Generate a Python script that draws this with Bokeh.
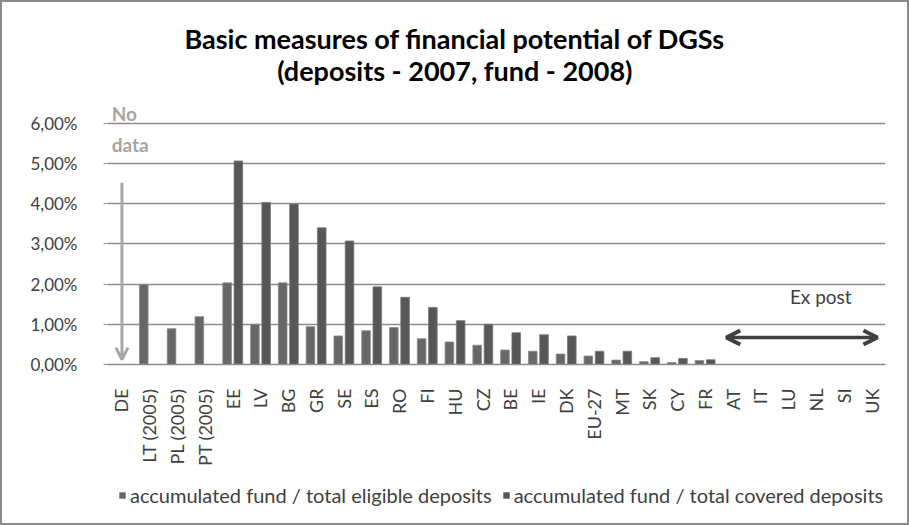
import math
from bokeh.plotting import figure
from bokeh.layouts import column
from bokeh.models import (ColumnDataSource, FixedTicker, Legend, LegendItem,
                          Arrow, OpenHead, Range1d)
from bokeh.core.properties import value
from bokeh.transform import dodge
from bokeh.embed import file_html
from bokeh.resources import INLINE

NAN = float("nan")

categories = ["DE", "LT (2005)", "PL (2005)", "PT (2005)", "EE", "LV", "BG", "GR", "SE", "ES",
              "RO", "FI", "HU", "CZ", "BE", "IE", "DK", "EU-27", "MT", "SK", "CY", "FR",
              "AT", "IT", "LU", "NL", "SI", "UK"]
# accumulated fund / total eligible deposits (%)
eligible = [NAN, 1.99, 0.89, 1.19, 2.03, 1.00, 2.03, 0.94, 0.71, 0.84,
            0.92, 0.64, 0.56, 0.48, 0.36, 0.33, 0.26, 0.21, 0.11, 0.07, 0.05, 0.10,
            NAN, NAN, NAN, NAN, NAN, NAN]
# accumulated fund / total covered deposits (%)
covered = [NAN, NAN, NAN, NAN, 5.06, 4.03, 3.99, 3.40, 3.07, 1.93,
           1.67, 1.42, 1.09, 1.00, 0.79, 0.74, 0.71, 0.33, 0.33, 0.17, 0.15, 0.12,
           NAN, NAN, NAN, NAN, NAN, NAN]
y_ticks = [0, 1, 2, 3, 4, 5, 6]
y_tick_labels = ["0,00%", "1,00%", "2,00%", "3,00%", "4,00%", "5,00%", "6,00%"]
series_names = ["accumulated fund / total eligible deposits",
                "accumulated fund / total covered deposits"]
title_lines = ["Basic measures of financial potential of DGSs",
               "(deposits - 2007, fund - 2008)"]

FONT = "Lato"
TXT = "#404040"
C1, C2 = "#676767", "#575757"
W = 905
Y_TOP = 8.95          # upper end of the value axis (room for the title)
TITLE_X = 12.5        # horizontal centre of the title (page centre)
TITLE_Y = [8.11, 7.31]

xc = [i + 0.5 for i in range(len(categories))]
src = ColumnDataSource(dict(x=xc, cat=categories, eligible=eligible, covered=covered))

p = figure(width=W, height=466, output_backend="svg", toolbar_location=None,
           x_range=Range1d(0, len(categories)), y_range=Range1d(0, Y_TOP),
           min_border_left=105, min_border_right=22, min_border_top=2, min_border_bottom=101)
p.outline_line_color = None
p.background_fill_color = "white"
p.border_fill_color = "white"
p.styles = {"background-color": "white"}

r1 = p.vbar(x=dodge("x", -0.195), top="eligible", width=0.31, source=src,
            fill_color=C1, line_color="#8a8a8a", line_width=0.8)
r2 = p.vbar(x=dodge("x", 0.21), top="covered", width=0.31, source=src,
            fill_color=C2, line_color="#7a7a7a", line_width=0.8)

# axes
p.xaxis.ticker = FixedTicker(ticks=xc)
p.xaxis.major_label_overrides = {x: c for x, c in zip(xc, categories)}
p.xaxis.major_label_orientation = math.pi / 2
p.xaxis.major_tick_line_color = None
p.xaxis.minor_tick_line_color = None
p.xaxis.axis_line_color = "#8c8c8c"
p.xaxis.axis_line_width = 1.5
p.xaxis.major_label_text_font = FONT
p.xaxis.major_label_text_font_size = "18px"
p.xaxis.major_label_text_color = TXT
p.xaxis.major_label_standoff = 18

p.yaxis.ticker = FixedTicker(ticks=y_ticks)
p.yaxis.major_label_overrides = {t: l for t, l in zip(y_ticks, y_tick_labels)}
p.yaxis.axis_line_color = None
p.yaxis.major_tick_in = 0
p.yaxis.major_tick_out = 4
p.yaxis.major_tick_line_color = "#8c8c8c"
p.yaxis.minor_tick_line_color = None
p.yaxis.major_label_text_font = FONT
p.yaxis.major_label_text_font_size = "17px"
p.yaxis.major_label_text_color = TXT
p.yaxis.major_label_standoff = 26

p.xgrid.grid_line_color = None
p.ygrid.grid_line_color = "#8c8c8c"
p.ygrid.grid_line_width = 1.5

# title (two centred lines)
p.text(x=[TITLE_X, TITLE_X], y=TITLE_Y, text=title_lines,
       text_font=value(FONT), text_font_style="bold", text_font_size="27px",
       text_color="black", text_align="center", text_baseline="middle")

# "No data" annotation on DE
de = categories.index("DE")
p.text(x=[de + 0.15, de + 0.15], y=[6.23, 5.47], text=["No", "data"],
       text_font=value(FONT), text_font_style="bold", text_font_size="19px",
       text_color="#a6a6a6", text_baseline="middle")
p.add_layout(Arrow(x_start=de + 0.52, y_start=4.52, x_end=de + 0.52, y_end=0.12,
                   line_color="#a6a6a6", line_width=3,
                   end=OpenHead(size=12, line_color="#a6a6a6", line_width=3)))

# "Ex post" annotation
at = categories.index("AT")
uk = categories.index("UK")
p.add_layout(Arrow(x_start=at + 0.27, y_start=0.67, x_end=uk + 0.71, y_end=0.67,
                   line_color="#404040", line_width=3.5,
                   start=OpenHead(size=14, line_color="#404040", line_width=4),
                   end=OpenHead(size=14, line_color="#404040", line_width=4)))
p.text(x=[(at + uk + 1) / 2 + 0.67], y=[1.69], text=["Ex post"],
       text_font=value(FONT), text_font_size="19px", text_color=TXT,
       text_align="center", text_baseline="middle")

# legend strip below the chart (its frame is aligned with the chart's frame);
# its range lies far away from the data so the proxy bars stay out of view
lg = figure(width=W, height=55, output_backend="svg", toolbar_location=None,
            x_range=Range1d(0, len(categories)), y_range=Range1d(1000, 1001),
            min_border_left=0, min_border_right=0, min_border_top=0, min_border_bottom=0)
lg.axis.visible = False
lg.grid.grid_line_color = None
lg.outline_line_color = None
lg.border_fill_color = "white"
lg.background_fill_color = "white"
lg.styles = {"background-color": "white"}
g1 = lg.vbar(x="x", top="eligible", width=0.31, source=src, fill_color=C1, line_color=None)
g2 = lg.vbar(x="x", top="covered", width=0.31, source=src, fill_color=C2, line_color=None)
legend = Legend(items=[LegendItem(label=series_names[0], renderers=[g1]),
                       LegendItem(label=series_names[1], renderers=[g2])],
                orientation="horizontal", location=(11, 16),
                label_text_font=FONT, label_text_font_size="20px", label_text_color=TXT,
                glyph_width=8, glyph_height=8, spacing=10, label_standoff=4,
                border_line_color=None, background_fill_alpha=0, margin=0, padding=0)
lg.add_layout(legend, "center")

layout = column(p, lg, spacing=0)
layout.styles = {"padding": "2px", "background-color": "#8a8a8a"}

open("out.html", "w").write(file_html(layout, INLINE))
